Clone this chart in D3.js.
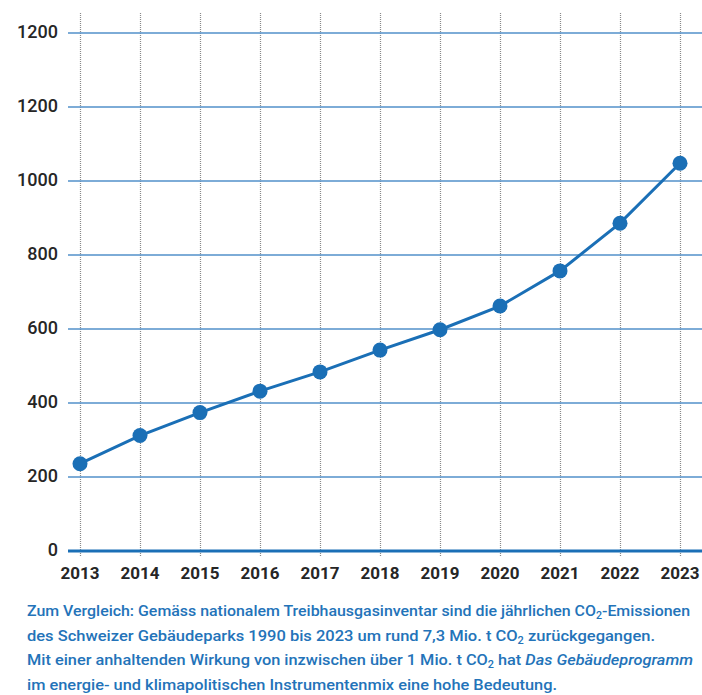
<!DOCTYPE html>
<html><head><meta charset="utf-8">
<script src="https://cdn.jsdelivr.net/npm/d3@7"></script>
<style>html,body{margin:0;padding:0;background:#fff;}svg{display:block;}</style>
</head><body>
<svg id="c" width="702" height="695"></svg>
<script>
const years = [2013,2014,2015,2016,2017,2018,2019,2020,2021,2022,2023];
const values = [236,312,374,432,484,543,598,662,757,886,1048];
const yTickValues = [0,200,400,600,800,1000,1200,1400];
const yTickLabels = ["0","200","400","600","800","1000","1200","1200"];
const captionLines = [
  [{t:"Zum Vergleich: Gemäss nationalem Treibhausgasinventar sind die jährlichen CO"},{t:"2",sub:true},{t:"-Emissionen"}],
  [{t:"des Schweizer Gebäudeparks 1990 bis 2023 um rund 7,3 Mio. t CO"},{t:"2",sub:true},{t:" zurückgegangen."}],
  [{t:"Mit einer anhaltenden Wirkung von inzwischen über 1 Mio. t CO"},{t:"2",sub:true},{t:" hat "},{t:"Das Gebäudeprogramm",it:true}],
  [{t:"im energie- und klimapolitischen Instrumentenmix eine hohe Bedeutung."}]
];
const captionWidths = [663, 628, 666, 530];

const svg = d3.select("#c");
const x = d3.scalePoint().domain(years).range([80, 680]);
const y = d3.scaleLinear().domain([0,1400]).range([551, 33]);
const blue = "#1a6fb6";

// vertical dotted lines
svg.append("g").selectAll("line").data(years).join("line")
  .attr("x1", d=>x(d)+0.5).attr("x2", d=>x(d)+0.5)
  .attr("y1", 13).attr("y2", 557)
  .attr("stroke", "#8a8a8a").attr("stroke-width", 1.2)
  .attr("stroke-dasharray", "1,1");

// horizontal grid
svg.append("g").selectAll("line").data(yTickValues.slice(1)).join("line")
  .attr("x1", 68).attr("x2", 702)
  .attr("y1", d=>y(d)).attr("y2", d=>y(d))
  .attr("stroke", "#5290ca").attr("stroke-width", 1.4);

// zero line
svg.append("line").attr("x1",68).attr("x2",702).attr("y1",y(0)).attr("y2",y(0))
  .attr("stroke", blue).attr("stroke-width", 3);

// y labels
svg.append("g").selectAll("text").data(yTickValues).join("text")
  .attr("x", 58).attr("y", d=>y(d)+5)
  .attr("text-anchor","end")
  .attr("font-family","Roboto, 'Liberation Sans', sans-serif")
  .attr("font-size", 18).attr("font-weight", 500).attr("fill","#262626")
  .text((d,i)=>yTickLabels[i]);

// x labels
svg.append("g").selectAll("text").data(years).join("text")
  .attr("x", d=>x(d)).attr("y", 579)
  .attr("text-anchor","middle")
  .attr("font-family","Roboto, 'Liberation Sans', sans-serif")
  .attr("font-size", 17).attr("font-weight", 700).attr("fill","#262626")
  .text(d=>d);

// line
const line = d3.line().x((d,i)=>x(years[i])).y(d=>y(d));
svg.append("path").datum(values).attr("d", line)
  .attr("fill","none").attr("stroke", blue).attr("stroke-width", 3);

svg.append("g").selectAll("circle").data(values).join("circle")
  .attr("cx",(d,i)=>x(years[i])).attr("cy", d=>y(d)).attr("r", 7.5)
  .attr("fill", blue);

// caption
const cap = svg.append("g")
  .attr("font-family","Roboto, 'Liberation Sans', sans-serif")
  .attr("font-size", 15).attr("font-weight", 500).attr("fill", "#2373b9");
captionLines.forEach((parts, li) => {
  const t = cap.append("text").attr("x", 27).attr("y", 616 + li*24.5)
    .attr("textLength", captionWidths[li]).attr("lengthAdjust","spacingAndGlyphs");
  parts.forEach(p => {
    const s = t.append("tspan").text(p.t);
    if (p.sub) s.attr("font-size", 10).attr("baseline-shift", "-3");
    if (p.it) s.attr("font-style","italic");
  });
});
</script>
</body></html>
